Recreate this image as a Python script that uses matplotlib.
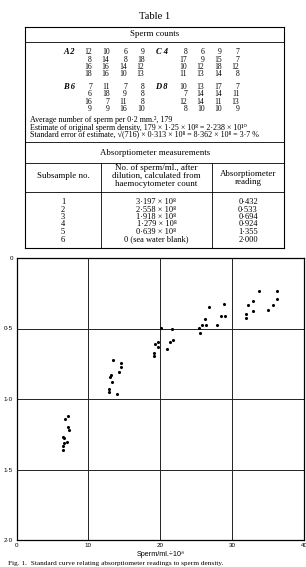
import matplotlib
matplotlib.use("Agg")
import matplotlib.pyplot as plt

SERIF = ["Liberation Serif", "DejaVu Serif"]
SANS = ["Liberation Sans", "DejaVu Sans"]

# Sperm counts (haemocytometer squares)
counts_A2 = [[12, 10, 6, 9], [8, 14, 8, 18], [16, 16, 14, 12], [18, 16, 10, 13]]
counts_C4 = [[8, 6, 9, 7], [17, 9, 15, 7], [10, 12, 18, 12], [11, 13, 14, 8]]
counts_B6 = [[7, 11, 7, 8], [6, 18, 9, 8], [16, 7, 11, 8], [9, 9, 16, 10]]
counts_D8 = [[10, 13, 17, 7], [7, 14, 14, 11], [12, 14, 11, 13], [8, 10, 10, 9]]

summary_lines = [
    "Average number of sperm per 0·2 mm.², 179",
    "Estimate of original sperm density, 179 × 1·25 × 10⁸ = 2·238 × 10¹⁰",
    "Standard error of estimate, √(716) × 0·313 × 10⁸ = 8·362 × 10⁸ = 3·7 %",
]

# Absorptiometer table
subsample = ["1", "2", "3", "4", "5", "6"]
sperm_per_ml = ["3·197 × 10⁸", "2·558 × 10⁸", "1·918 × 10⁸", "1·279 × 10⁸",
                "0·639 × 10⁸", "0 (sea water blank)"]
readings = ["0·432", "0·533", "0·694", "0·924", "1·355", "2·000"]

# Scatter points: sperm/ml (x) vs absorptiometer reading (y)
sperm_x = [7.21, 6.71, 7.13, 7.35, 6.48, 6.66, 6.99, 6.62, 6.52, 6.43,
           13.48, 14.51, 14.51, 14.21, 13.20, 12.95, 13.26, 12.86, 12.86, 13.97,
           20.08, 21.66, 19.29, 19.67, 19.75, 19.11, 19.11, 20.92, 21.42, 21.75,
           25.46, 25.56, 25.77, 26.18, 26.39, 26.85, 27.88, 28.41, 29.01, 28.86,
           31.96, 31.96, 32.24, 32.84, 32.87, 33.68, 34.93, 35.63, 36.18, 36.28]
reading_y = [1.121, 1.144, 1.196, 1.220, 1.272, 1.277, 1.303, 1.310, 1.333, 1.362,
             0.723, 0.742, 0.771, 0.806, 0.833, 0.844, 0.876, 0.927, 0.950, 0.965,
             0.499, 0.504, 0.612, 0.594, 0.631, 0.672, 0.693, 0.643, 0.598, 0.582,
             0.494, 0.534, 0.472, 0.430, 0.472, 0.350, 0.472, 0.413, 0.413, 0.325,
             0.399, 0.429, 0.331, 0.305, 0.379, 0.233, 0.369, 0.331, 0.232, 0.291]

x_ticks = [0, 10, 20, 30, 40]
x_tick_labels = ["0", "10", "20", "30", "40"]
y_ticks = [0, 0.5, 1.0, 1.5, 2.0]
y_tick_labels = ["0", "0·5", "1·0", "1·5", "2·0"]

W, H = 306, 567
fig = plt.figure(figsize=(W / 100, H / 100), dpi=100)

# %% page overlay (table) in pixel coordinates
ov = fig.add_axes([0, 0, 1, 1])
ov.set_xlim(0, W)
ov.set_ylim(H, 0)
ov.axis("off")

def hline(y, x0=25, x1=284, lw=0.6):
    ov.plot([x0, x1], [y, y], color="black", lw=lw)

def vline(x, y0, y1, lw=0.6):
    ov.plot([x, x], [y0, y1], color="black", lw=lw)

fs = 5.5     # body text
fh = 6.4     # headings
ov.text(155, 16.5, "Table 1", ha="center", va="center", family=SERIF, size=7.6)

# box
hline(27.3, lw=0.8)
hline(248, lw=0.8)
vline(25, 27.3, 248, lw=0.8)
vline(284, 27.3, 248, lw=0.8)

ov.text(155, 34.5, "Sperm counts", ha="center", va="center", family=SERIF, size=fh)
hline(41.7)

# count blocks
blocks = [("A 2", counts_A2, 75, 92, 52.3), ("C 4", counts_C4, 168, 187, 52.3),
          ("B 6", counts_B6, 75, 92, 86.7), ("D 8", counts_D8, 168, 187, 86.7)]
for label, counts, lx, cx, y0 in blocks:
    ov.text(lx, y0, label, ha="right", va="center", family=SERIF, size=fs + 0.6,
            style="italic", weight="bold")
    for i, row in enumerate(counts):
        for j, v in enumerate(row):
            ov.text(cx + j * 17.5, y0 + i * 7.4, str(v), ha="right", va="center",
                    family=SERIF, size=fs)

for i, line in enumerate(summary_lines):
    ov.text(30, 120 + i * 7.5, line, ha="left", va="center", family=SERIF, size=5.8)
hline(142.3)

ov.text(155, 152.7, "Absorptiometer measurements", ha="center", va="center",
        family=SERIF, size=fh)
hline(163.3)
vline(101.4, 163.3, 248)
vline(211.6, 163.3, 248)

ov.text(63, 176.5, "Subsample no.", ha="center", va="center", family=SERIF, size=fh)
ov.text(156.5, 176, "No. of sperm/ml., after\ndilution, calculated from\nhaemocytometer count",
        ha="center", va="center", family=SERIF, size=fh, linespacing=0.95)
ov.text(248, 178, "Absorptiometer\nreading", ha="center", va="center",
        family=SERIF, size=fh, linespacing=0.95)
hline(192.3)

for i in range(len(subsample)):
    y = 202 + i * 7.5
    ov.text(63, y, subsample[i], ha="center", va="center", family=SERIF, size=6.0)
    ov.text(156.5, y, sperm_per_ml[i], ha="center", va="center", family=SERIF, size=6.0)
    ov.text(248, y, readings[i], ha="center", va="center", family=SERIF, size=6.0)

# %% chart
ax = fig.add_axes([16.5 / W, 1 - 540 / H, (304 - 16.5) / W, (540 - 258) / H])
ax.patch.set_alpha(0)
ax.scatter(sperm_x, reading_y, s=5, color="black", zorder=3, linewidths=0)
ax.set_xlim(0, 40)
ax.set_ylim(2.0, 0)
ax.set_xticks(x_ticks)
ax.set_xticklabels(x_tick_labels, family=SANS, size=4.5)
ax.set_yticks(y_ticks)
ax.set_yticklabels(y_tick_labels, family=SANS, size=4.5)
ax.tick_params(length=0, pad=2.5)
ax.grid(True, color="#222222", lw=0.7)
for s in ax.spines.values():
    s.set_linewidth(0.9)
ax.set_xlabel("Sperm/ml.÷10⁸", family=SANS, size=5.2, labelpad=2)

# caption at the foot of the page
ov.text(8, 566.5, "Fig. 1.  Standard curve relating absorptiometer readings to sperm density.",
        ha="left", va="bottom", family=SERIF, size=5.2)

fig.savefig("out.png", dpi=100)
